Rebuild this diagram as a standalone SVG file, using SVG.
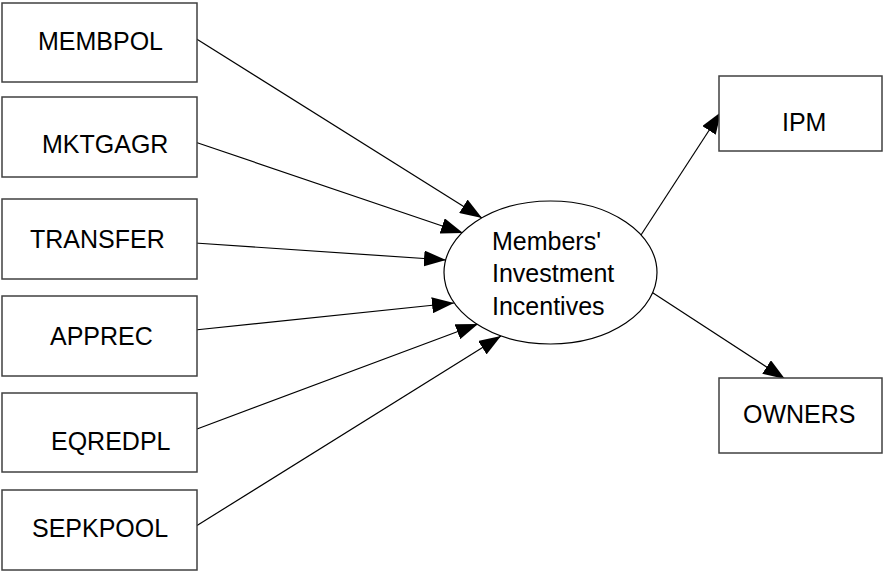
<svg xmlns="http://www.w3.org/2000/svg" width="883" height="572" viewBox="0 0 883 572">
<style>
  .box { fill: #ffffff; stroke: #404040; stroke-width: 1.5; }
  .lbl { font-family: "Liberation Sans", Arial, sans-serif; font-size: 25px; fill: #000000; }
  .edge { stroke: #000000; stroke-width: 1.2; fill: none; marker-end: url(#arrow); }
</style>
<defs>
  <marker id="arrow" markerUnits="userSpaceOnUse" markerWidth="23" markerHeight="16" refX="22" refY="8" orient="auto">
    <path d="M0,0 L22,8 L0,16 Z" fill="#000000"/>
  </marker>
</defs>
<rect width="883" height="572" fill="#ffffff"/>
<g id="connectors">
  <line class="edge" x1="195" y1="38" x2="482" y2="218"/>
  <line class="edge" x1="195" y1="142" x2="463" y2="233"/>
  <line class="edge" x1="195" y1="243" x2="446" y2="260"/>
  <line class="edge" x1="195" y1="330" x2="454" y2="303"/>
  <line class="edge" x1="197" y1="429" x2="478" y2="324"/>
  <line class="edge" x1="193" y1="528" x2="501" y2="336"/>
  <line class="edge" x1="641" y1="235" x2="721" y2="112"/>
  <line class="edge" x1="650" y1="291" x2="785" y2="379"/>
</g>
<g id="MEMBPOL"><rect class="box" x="2" y="3" width="195" height="79"/><text class="lbl" x="38" y="50">MEMBPOL</text></g>
<g id="MKTGAGR"><rect class="box" x="2" y="97" width="195" height="80"/><text class="lbl" x="42" y="153">MKTGAGR</text></g>
<g id="TRANSFER"><rect class="box" x="2" y="199" width="195" height="80"/><text class="lbl" x="30" y="248">TRANSFER</text></g>
<g id="APPREC"><rect class="box" x="2" y="296" width="195" height="80"/><text class="lbl" x="50" y="345">APPREC</text></g>
<g id="EQREDPL"><rect class="box" x="2" y="393" width="195" height="79"/><text class="lbl" x="51" y="450">EQREDPL</text></g>
<g id="SEPKPOOL"><rect class="box" x="2" y="490" width="195" height="80"/><text class="lbl" x="32" y="537">SEPKPOOL</text></g>
<g id="MII">
  <ellipse cx="550.5" cy="272.5" rx="106.5" ry="71.5" fill="#ffffff" stroke="#000000" stroke-width="1.2"/>
  <text class="lbl" x="492" y="250">Members'</text>
  <text class="lbl" x="492" y="282">Investment</text>
  <text class="lbl" x="492" y="315">Incentives</text>
</g>
<g id="IPM"><rect class="box" x="719" y="76" width="163" height="75"/><text class="lbl" x="782" y="131">IPM</text></g>
<g id="OWNERS"><rect class="box" x="719" y="378" width="163" height="75"/><text class="lbl" x="743" y="423">OWNERS</text></g>
</svg>
